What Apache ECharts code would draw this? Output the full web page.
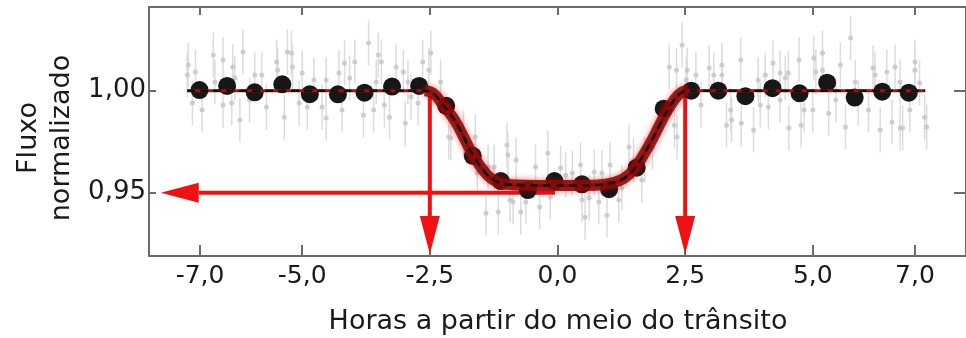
<!DOCTYPE html>
<html>
<head>
<meta charset="utf-8">
<script src="https://cdn.jsdelivr.net/npm/echarts@6/dist/echarts.min.js"></script>
<style>
  html, body { margin: 0; padding: 0; background: #fff; }
  #chart { width: 966px; height: 338px; }
</style>
</head>
<body>
<div id="chart"></div>
<script>
// tick positions
const xTicks = [-7, -5, -2.5, 0, 2.5, 5, 7];
const yTicks = [0.95, 1.0];

// binned light-curve points (black dots)
const binX = [-7.01, -6.47, -5.93, -5.39, -4.85, -4.30, -3.78, -3.24, -2.71, -2.18, -1.66, -1.11, -0.58, -0.06,
              0.48, 1.01, 1.55, 2.08, 2.62, 3.15, 3.68, 4.21, 4.74, 5.28, 5.82, 6.36, 6.88];
const binY = [1.0003, 1.0023, 0.9992, 1.0031, 0.9983, 0.9982, 0.9990, 1.0020, 1.0023, 0.9926, 0.9681, 0.9557, 0.9513, 0.9557,
              0.9541, 0.9517, 0.9623, 0.9912, 1.0000, 1.0000, 0.9973, 1.0012, 0.9987, 1.0039, 0.9966, 0.9995, 0.9990];

// raw measurements (grey points)
const greyX = [-7.23, -7.25, -7.09, -7.15, -6.96, -6.74, -6.71, -6.55, -6.55, -6.36, -6.38, -6.32, -6.22, -6.16, -6.03,
               -5.93, -5.79, -5.70, -5.50, -5.48, -5.35, -5.29, -5.21, -5.19, -5.06, -5.00, -4.90, -4.77, -4.61, -4.53,
               -4.53, -4.28, -4.22, -4.17, -4.07, -3.97, -3.80, -3.70, -3.60, -3.55, -3.51, -3.45, -3.39, -3.29, -3.16,
               -3.02, -2.98, -2.93, -2.87, -2.73, -2.64, -2.52, -2.48, -2.29, -2.13, -2.09, -1.84, -1.61, -1.57, -1.40,
               -1.36, -1.24, -1.16, -0.99, -0.97, -0.93, -0.87, -0.81, -0.72, -0.62, -0.43, -0.35, -0.19, -0.14, 0.06,
               0.16, 0.29, 0.45, 0.48, 0.54, 0.62, 0.72, 0.81, 0.87, 0.97, 1.03, 1.20, 1.26, 1.40, 1.49,
               1.65, 1.71, 1.86, 2.19, 2.29, 2.33, 2.34, 2.44, 2.52, 2.54, 2.71, 2.81, 2.97, 3.06, 3.22,
               3.22, 3.31, 3.39, 3.41, 3.59, 3.60, 3.84, 3.93, 3.97, 4.07, 4.13, 4.22, 4.36, 4.36, 4.46,
               4.52, 4.53, 4.73, 4.77, 4.83, 5.00, 5.02, 5.06, 5.19, 5.19, 5.31, 5.45, 5.54, 5.64, 5.74,
               5.83, 5.89, 6.09, 6.18, 6.22, 6.32, 6.45, 6.55, 6.61, 6.71, 6.71, 6.76, 6.90, 7.00, 7.00,
               7.09, 7.19, 7.23];
const greyY = [1.0126, 1.0077, 1.0092, 0.9940, 0.9905, 1.0175, 1.0043, 1.0150, 0.9930, 1.0116, 0.9940, 1.0062, 0.9856, 1.0190, 0.9954,
               1.0077, 1.0077, 0.9920, 1.0140, 1.0100, 0.9870, 1.0190, 1.0185, 1.0116, 0.9940, 1.0087, 0.9920, 1.0052, 0.9920, 0.9866,
               1.0052, 1.0087, 0.9905, 1.0136, 1.0062, 1.0141, 0.9880, 1.0234, 0.9905, 1.0043, 1.0175, 1.0141, 0.9930, 0.9870, 1.0116,
               1.0092, 0.9840, 1.0043, 0.9970, 0.9940, 1.0141, 1.0100, 1.0185, 1.0043, 0.9773, 0.9768, 0.9792, 0.9773, 0.9597, 0.9400,
               0.9626, 0.9626, 0.9405, 0.9734, 0.9685, 0.9464, 0.9455, 0.9660, 0.9405, 0.9455, 0.9626, 0.9430, 0.9695, 0.9479, 0.9621,
               0.9587, 0.9597, 0.9636, 0.9464, 0.9380, 0.9474, 0.9601, 0.9455, 0.9597, 0.9390, 0.9636, 0.9464, 0.9523, 0.9724, 0.9660,
               0.9562, 0.9660, 0.9724, 1.0116, 0.9831, 1.0100, 0.9773, 1.0224, 1.0052, 1.0100, 1.0077, 0.9930, 1.0111, 1.0077, 1.0126,
               1.0077, 0.9831, 0.9905, 0.9856, 1.0150, 0.9840, 0.9807, 1.0052, 0.9930, 1.0077, 0.9920, 1.0136, 1.0087, 0.9954, 1.0062,
               1.0087, 0.9817, 1.0150, 0.9831, 0.9905, 0.9905, 1.0160, 1.0092, 1.0185, 1.0100, 0.9890, 0.9954, 1.0126, 0.9822, 1.0258,
               1.0043, 0.9940, 0.9905, 1.0111, 1.0077, 0.9807, 1.0092, 0.9846, 1.0116, 0.9817, 1.0043, 0.9817, 0.9905, 1.0141, 1.0100,
               1.0038, 0.9870, 0.9822];
const greyErr = 0.011;
const binErr = 0.003;

// transit model curve
const modelX = [-7.25, -2.6, -2.5, -2.4, -2.3, -2.0, -1.7, -1.5, -1.3, -1.1, -0.8, 0, 0.8, 1.1, 1.3, 1.5, 1.8, 2.1, 2.3, 2.45, 2.55, 7.2];
const modelY = [1.0, 1.0, 0.9995, 0.998, 0.995, 0.985, 0.9705, 0.9625, 0.957, 0.9545, 0.9538, 0.9535, 0.9538, 0.955, 0.957, 0.9615, 0.9735, 0.988, 0.996, 0.9995, 1.0, 1.0];

// red annotation arrows: [fromX, fromY, toX, toY]
const arrows = [
    [-0.05, 0.95, -7.77, 0.95],
    [-2.5, 0.9974, -2.5, 0.9200],
    [2.5, 0.9979, 2.5, 0.9200]
];

const chart = echarts.init(document.getElementById("chart"));
const font = "DejaVu Sans";
const axisColor = "#6b6b6b";
const red = "#f01212";
const comma = (v, d) => v.toFixed(d).replace(".", ",");

const greyData = greyX.map((x, i) => [x, greyY[i], greyErr]);
const binData = binX.map((x, i) => [x, binY[i], binErr]);
const modelData = modelX.map((x, i) => [x, modelY[i]]);
const bandData = modelData.filter(p => p[0] > -2.7 && p[0] < 2.7);

const errorBars = (color, width) => (params, api) => {
    const x = api.value(0), y = api.value(1), e = api.value(2);
    const top = api.coord([x, y + e]);
    const bot = api.coord([x, y - e]);
    return {
        type: "line",
        shape: { x1: top[0], y1: top[1], x2: bot[0], y2: bot[1] },
        style: { stroke: color, lineWidth: width }
    };
};

const drawArrow = (params, api) => {
    const a = api.coord([api.value(0), api.value(1)]);
    const b = api.coord([api.value(2), api.value(3)]);
    const dx = b[0] - a[0], dy = b[1] - a[1];
    const len = Math.hypot(dx, dy);
    const ux = dx / len, uy = dy / len;
    const headLen = 38, headHalf = 10;
    const bx = b[0] - ux * headLen, by = b[1] - uy * headLen;
    return {
        type: "group",
        children: [
            { type: "line", shape: { x1: a[0], y1: a[1], x2: bx, y2: by }, style: { stroke: red, lineWidth: 4 } },
            {
                type: "polygon",
                shape: { points: [[b[0], b[1]], [bx - uy * headHalf, by + ux * headHalf], [bx + uy * headHalf, by - ux * headHalf]] },
                style: { fill: red }
            }
        ]
    };
};

const baseX = {
    type: "value", min: -8, max: 8,
    axisLine: { show: true, onZero: false, lineStyle: { color: axisColor, width: 2 } },
    splitLine: { show: false }
};
const baseY = {
    type: "value", min: 0.919, max: 1.041,
    axisLine: { show: true, onZero: false, lineStyle: { color: axisColor, width: 2 } },
    splitLine: { show: false }
};

const option = {
    animation: false,
    backgroundColor: "#fff",
    grid: { left: 149, top: 7, width: 826, height: 249 },
    xAxis: [
        {
            ...baseX, position: "bottom",
            axisTick: { inside: true, length: 11, customValues: xTicks, lineStyle: { color: axisColor, width: 2 } },
            axisLabel: { customValues: xTicks, formatter: v => comma(v, 1), fontFamily: font, fontSize: 25, color: "#1a1a1a", margin: 8 }
        },
        {
            ...baseX, position: "top",
            axisTick: { inside: true, length: 8, customValues: xTicks, lineStyle: { color: axisColor, width: 2 } },
            axisLabel: { show: false }
        }
    ],
    yAxis: [
        {
            ...baseY, position: "left",
            axisTick: { inside: true, length: 7, customValues: yTicks, lineStyle: { color: axisColor, width: 2 } },
            axisLabel: { customValues: yTicks, formatter: v => comma(v, 2), fontFamily: font, fontSize: 26, color: "#1a1a1a", margin: 3 }
        },
        {
            ...baseY, position: "right",
            axisTick: { inside: true, length: 12, customValues: yTicks, lineStyle: { color: axisColor, width: 2 } },
            axisLabel: { show: false }
        }
    ],
    graphic: [
        { type: "text", x: 29, y: 138, rotation: Math.PI / 2,
          style: { text: "Fluxo", font: `27px "${font}"`, fill: "#1a1a1a", textAlign: "center", textVerticalAlign: "middle" } },
        { type: "text", x: 62, y: 138, rotation: Math.PI / 2,
          style: { text: "normalizado", font: `27px "${font}"`, fill: "#1a1a1a", textAlign: "center", textVerticalAlign: "middle" } },
        { type: "text", x: 558, y: 322,
          style: { text: "Horas a partir do meio do trânsito", font: `27px "${font}"`, fill: "#1a1a1a", textAlign: "center", textVerticalAlign: "middle" } }
    ],
    series: [
        {
            name: "erros", type: "custom", renderItem: errorBars("#dcdcdc", 1.5),
            data: greyData, encode: { x: 0, y: 1 }, silent: true
        },
        {
            name: "medidas", type: "scatter", data: greyData.map(p => [p[0], p[1]]),
            symbolSize: 5, itemStyle: { color: "#c4c4c4" }, silent: true
        },
        {
            name: "modelo", type: "line", data: modelData, showSymbol: false, smooth: 0.3,
            lineStyle: { color: "#9a1414", width: 3 }
        },
        {
            name: "banda", type: "line", data: bandData, showSymbol: false, smooth: 0.3,
            lineStyle: { color: "rgba(140,8,8,0.88)", width: 11, shadowBlur: 6, shadowColor: "rgba(220,0,0,0.6)" }
        },
        {
            name: "modelo tracejado", type: "line", data: modelData, showSymbol: false, smooth: 0.3,
            lineStyle: { color: "#111", width: 2.5, type: [8, 5] }
        },
        {
            name: "binados", type: "scatter", data: binData.map(p => [p[0], p[1]]),
            symbolSize: 18, itemStyle: { color: "#161616", opacity: 1 }, silent: true
        },
        {
            name: "erros binados", type: "custom", renderItem: errorBars("#4a4a4a", 1.5),
            data: binData, encode: { x: 0, y: 1 }, silent: true
        },
        {
            name: "setas", type: "custom", renderItem: drawArrow,
            data: arrows, encode: { x: [0, 2], y: [1, 3] }, silent: true
        }
    ]
};

chart.setOption(option);
window.addEventListener("resize", chart.resize);
</script>
</body>
</html>
